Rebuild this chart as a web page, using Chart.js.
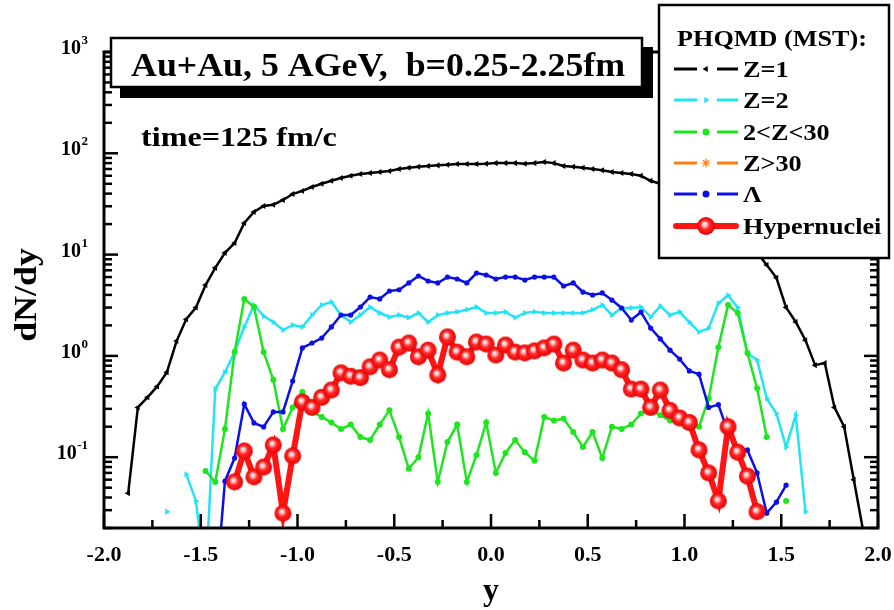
<!DOCTYPE html>
<html>
<head>
<meta charset="utf-8">
<script src="https://cdn.jsdelivr.net/npm/chart.js@4.4.0/dist/chart.umd.min.js"></script>
<style>
  body { margin: 0; background: #fff; }
</style>
</head>
<body>
<canvas id="dndy" width="894" height="610"></canvas>
<script>
// rapidity bin centres
const rapidity = [-1.875,-1.825,-1.775,-1.725,-1.675,-1.625,-1.575,-1.525,-1.475,-1.425,
  -1.375,-1.325,-1.275,-1.225,-1.175,-1.125,-1.075,-1.025,-0.975,-0.925,
  -0.875,-0.825,-0.775,-0.725,-0.675,-0.625,-0.575,-0.525,-0.475,-0.425,
  -0.375,-0.325,-0.275,-0.225,-0.175,-0.125,-0.075,-0.025,0.025,0.075,
  0.125,0.175,0.225,0.275,0.325,0.375,0.425,0.475,0.525,0.575,
  0.625,0.675,0.725,0.775,0.825,0.875,0.925,0.975,1.025,1.075,
  1.125,1.175,1.225,1.275,1.325,1.375,1.425,1.475,1.525,1.575,
  1.625,1.675,1.725,1.775,1.825,1.875,1.925];

const z1 = [0.044,0.31,0.39,0.50,0.69,1.40,2.3,3.0,5.0,7.4,
  10.4,13.0,20.5,26.4,30.2,31,34.6,39.6,42.5,46.5,
  50,53.5,57,60,62.5,64,65.5,67,70,72,
  73.5,75,76,77,78.5,78.5,78.5,79,80,80,
  80,79,80,82,80,75,73.5,72,70,68,
  65.5,64,62.5,60,53.5,50,46,42,38,34,
  30,25,20,16,13,10.5,7.9,5.9,3.0,2.16,
  1.43,0.81,0.85,0.31,0.20,0.060,0.018];

const z2 = [null,null,null,null,0.029,null,0.068,0.037,0.006,0.47,
  0.69,1.09,1.93,3.18,2.48,2.16,1.80,2.02,1.93,2.53,
  3.18,3.41,2.53,2.16,2.53,3.04,2.65,2.42,2.53,2.39,
  2.65,2.16,2.53,2.65,2.72,2.85,3.04,2.65,2.65,2.72,
  2.39,2.65,2.72,2.65,2.65,2.65,2.65,2.65,2.85,3.18,
  2.53,2.97,2.97,3.04,2.42,3.1,2.53,2.72,2.16,1.72,
  1.88,3.3,3.97,3.0,1.07,0.91,0.38,0.27,0.126,0.26,
  0.029,null,null,null,null,null,null];

const zMid = [null,null,null,null,null,null,null,null,0.073,0.057,
  0.19,1.09,3.65,3.04,1.09,0.58,0.19,0.31,0.44,0.28,
  0.25,0.22,0.19,0.21,0.158,0.148,0.21,0.29,0.158,0.077,
  0.10,0.27,0.057,0.141,0.21,0.057,0.105,0.22,0.070,0.11,
  0.148,0.112,0.092,0.25,0.23,0.24,0.177,0.126,0.177,0.098,
  0.20,0.19,0.21,0.27,0.29,0.26,0.23,0.22,0.21,0.20,
  0.38,1.22,3.18,2.65,1.07,0.48,0.158,null,0.037,null,
  null,null,null,null,null,null,null];

const zHeavy = [];

const lambda = [null,null,null,null,null,null,null,null,null,0.004,
  0.058,0.098,0.335,0.218,0.199,0.28,0.28,0.565,1.20,1.34,
  1.50,1.93,2.53,2.53,3.04,3.81,3.65,4.37,4.5,5.25,
  6.15,5.49,5.25,6.0,5.74,5.25,6.58,6.29,5.74,6.0,
  6.0,5.61,6.0,6.0,6.0,4.9,5.25,4.27,3.99,4.18,
  3.56,2.97,2.26,2.71,1.88,1.47,1.14,0.93,0.71,0.66,
  0.31,0.33,0.177,0.123,0.118,0.070,0.028,0.036,0.053,null,
  null,null,null,null,null,null,null];

const hyper = [null,null,null,null,null,null,null,null,null,null,
  null,0.057,0.115,0.064,0.080,0.132,0.028,0.103,0.35,0.31,
  0.39,0.46,0.68,0.63,0.61,0.78,0.91,0.73,1.22,1.34,
  0.98,1.14,0.65,1.54,1.09,0.98,1.37,1.31,1.02,1.28,
  1.09,1.07,1.12,1.20,1.31,0.85,1.14,0.91,0.85,0.91,
  0.85,0.73,0.47,0.47,0.31,0.46,0.29,0.244,0.22,0.118,
  0.070,0.037,0.20,0.112,0.065,0.029,null,null,null,null,
  null,null,null,null,null,null,null];

const xMajor = [-2, -1.5, -1, -0.5, 0, 0.5, 1, 1.5, 2];
const xTickLabels = ['-2.0', '-1.5', '-1.0', '-0.5', '0.0', '0.5', '1.0', '1.5', '2.0'];
const xMinor = [-1.75, -1.25, -0.75, -0.25, 0.25, 0.75, 1.25, 1.75];
const yDecades = [0.1, 1, 10, 100, 1000];
const yExponents = ['-1', '0', '1', '2', '3'];
const yMinor = [0.02,0.03,0.04,0.05,0.06,0.07,0.08,0.09,
  0.2,0.3,0.4,0.5,0.6,0.7,0.8,0.9,
  2,3,4,5,6,7,8,9,
  20,30,40,50,60,70,80,90,
  200,300,400,500,600,700,800,900];

const SERIF = '"Liberation Serif", "Times New Roman", serif';

function makeBall(r) {
  const c = document.createElement('canvas');
  c.width = c.height = 2 * r + 2;
  const g = c.getContext('2d');
  const m = r + 1;
  const grad = g.createRadialGradient(m - r * 0.2, m - r * 0.25, 0, m, m, r);
  grad.addColorStop(0, '#ffffff');
  grad.addColorStop(0.22, '#ffc8c8');
  grad.addColorStop(0.5, '#ff2a2a');
  grad.addColorStop(1, '#e80000');
  g.fillStyle = grad;
  g.beginPath();
  g.arc(m, m, r, 0, Math.PI * 2);
  g.fill();
  return c;
}
const ball = makeBall(8.5);
const ballSmall = makeBall(9);

function series(label, values, color, extra) {
  return Object.assign({
    label: label,
    data: values.map((v, i) => ({ x: rapidity[i], y: v })),
    borderColor: color,
    backgroundColor: color,
    borderWidth: 2.5,
    pointRadius: 3,
    pointBorderWidth: 0,
    tension: 0,
    spanGaps: false
  }, extra);
}

const datasets = [
  series('Z=1', z1, '#000000', { pointStyle: 'triangle', pointRotation: 270, pointRadius: 3.5, order: 6 }),
  series('Z=2', z2, '#22e4f4', { pointStyle: 'triangle', pointRotation: 90, pointRadius: 3.5, order: 5 }),
  series('2<Z<30', zMid, '#1ee61e', { pointStyle: 'circle', pointRadius: 3, order: 4 }),
  series('Z>30', zHeavy, '#ff7f0e', { pointStyle: 'star', order: 3 }),
  series('\u039b', lambda, '#0a10e6', { pointStyle: 'circle', pointRadius: 2.6, order: 2 }),
  series('Hypernuclei', hyper, '#ff1414', { pointStyle: ball, borderWidth: 6, order: 1 })
];

const legendMarkers = [
  { style: 'triangle', rot: 270, r: 3.5, bw: 0 },
  { style: 'triangle', rot: 90, r: 3.5, bw: 0 },
  { style: 'circle', rot: 0, r: 3.5, bw: 0 },
  { style: 'star', rot: 0, r: 4.5, bw: 1.2 },
  { style: 'circle', rot: 0, r: 3.5, bw: 0 },
  { style: ballSmall, rot: 0, r: 9, bw: 0 }
];

function seg(ctx, x1, y1, x2, y2) {
  ctx.beginPath();
  ctx.moveTo(x1, y1);
  ctx.lineTo(x2, y2);
  ctx.stroke();
}

// the original figure's lettering is a little wider than Liberation Serif
function wideText(ctx, text, x, y, size, sx, align) {
  ctx.save();
  ctx.font = 'bold ' + size + 'px ' + SERIF;
  ctx.textAlign = align || 'left';
  ctx.translate(x, y);
  ctx.scale(sx, 1);
  ctx.fillText(text, 0, 0);
  ctx.restore();
}

const frame = {
  id: 'frame',
  afterDraw(chart) {
    const ctx = chart.ctx;
    const a = chart.chartArea;
    const xs = chart.scales.x, ys = chart.scales.y;
    ctx.save();
    ctx.strokeStyle = '#000';
    ctx.fillStyle = '#000';
    ctx.lineCap = 'butt';

    // ticks, pointing inwards
    ctx.lineWidth = 2.5;
    xMajor.forEach(v => { const p = xs.getPixelForValue(v); seg(ctx, p, a.bottom, p, a.bottom - 14); });
    xMinor.forEach(v => { const p = xs.getPixelForValue(v); seg(ctx, p, a.bottom, p, a.bottom - 8); });
    yDecades.forEach(v => {
      const p = ys.getPixelForValue(v);
      seg(ctx, a.left, p, a.left + 14, p);
      seg(ctx, a.right, p, a.right - 14, p);
    });
    yMinor.forEach(v => {
      const p = ys.getPixelForValue(v);
      seg(ctx, a.left, p, a.left + 8, p);
      seg(ctx, a.right, p, a.right - 8, p);
    });
    ctx.lineWidth = 3;
    ctx.strokeRect(a.left, a.top, a.right - a.left, a.bottom - a.top);

    // tick labels
    ctx.font = 'bold 22px ' + SERIF;
    ctx.textAlign = 'center';
    ctx.textBaseline = 'alphabetic';
    xMajor.forEach((v, i) => ctx.fillText(xTickLabels[i], xs.getPixelForValue(v), a.bottom + 33));
    yDecades.forEach((v, i) => {
      const p = ys.getPixelForValue(v);
      ctx.font = 'bold 13px ' + SERIF;
      const ew = ctx.measureText(yExponents[i]).width;
      ctx.textAlign = 'right';
      ctx.fillText(yExponents[i], 88, p - 8);
      ctx.font = 'bold 20px ' + SERIF;
      ctx.fillText('10', 88 - ew - 0.5, p + 2);
    });

    // axis titles
    wideText(ctx, 'y', (a.left + a.right) / 2, 600, 32, 1, 'center');
    ctx.save();
    ctx.translate(36, 295);
    ctx.rotate(-Math.PI / 2);
    wideText(ctx, 'dN/dy', 0, 0, 32, 1.12, 'center');
    ctx.restore();

    // title box with shadow
    ctx.fillRect(120, 47, 533, 51);
    ctx.fillStyle = '#fff';
    ctx.fillRect(111, 38, 531, 49);
    ctx.lineWidth = 2.5;
    ctx.strokeRect(111, 38, 531, 49);
    ctx.fillStyle = '#000';
    wideText(ctx, 'Au+Au, 5 AGeV,  b=0.25-2.25fm', 131, 76, 34, 1.054);
    wideText(ctx, 'time=125 fm/c', 141, 146, 27, 1.19);

    // legend box
    ctx.fillStyle = '#fff';
    ctx.fillRect(659, 5, 230, 253);
    ctx.lineWidth = 2.5;
    ctx.strokeRect(659, 5, 230, 253);
    ctx.fillStyle = '#000';
    wideText(ctx, 'PHQMD (MST):', 677, 46, 23, 1.14);
    const rowY = [69, 100, 132, 163, 194, 226];
    datasets.forEach((ds, i) => {
      const yy = rowY[i];
      ctx.strokeStyle = ds.borderColor;
      ctx.fillStyle = ds.borderColor;
      if (i === 5) {
        ctx.lineWidth = 6;
        ctx.lineCap = 'round';
        seg(ctx, 676, yy, 736, yy);
        ctx.lineCap = 'butt';
      } else {
        ctx.lineWidth = 3;
        seg(ctx, 674, yy, 697, yy);
        seg(ctx, 717, yy, 738, yy);
      }
      const m = legendMarkers[i];
      ctx.lineWidth = m.bw || 1;
      Chart.helpers.drawPoint(ctx, { pointStyle: m.style, rotation: m.rot, radius: m.r, borderWidth: m.bw }, 706, yy);
      ctx.fillStyle = '#000';
      wideText(ctx, ds.label, 743, yy + 8, 23, 1.14);
    });
    ctx.restore();
  }
};

new Chart(document.getElementById('dndy').getContext('2d'), {
  type: 'line',
  data: { datasets: datasets },
  options: {
    responsive: false,
    animation: false,
    layout: { padding: { left: 104, right: 16, top: 52, bottom: 82 } },
    scales: {
      x: { type: 'linear', min: -2, max: 2, display: false },
      y: { type: 'logarithmic', min: 0.02, max: 1000, display: false }
    },
    plugins: { legend: { display: false }, tooltip: { enabled: false } }
  },
  plugins: [frame]
});
</script>
</body>
</html>
